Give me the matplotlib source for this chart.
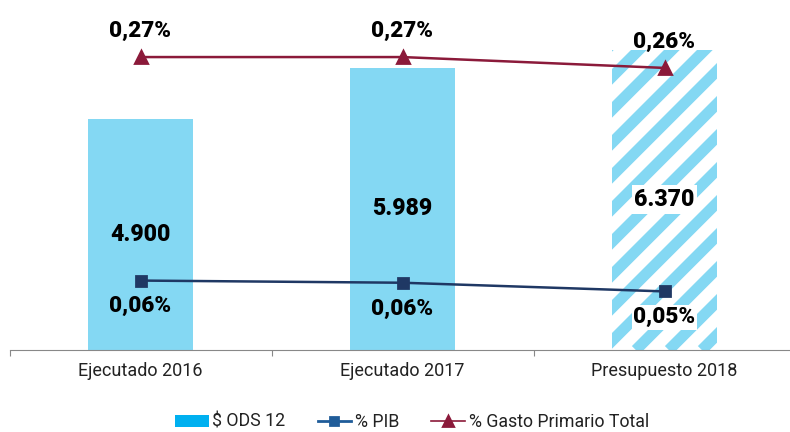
import matplotlib.pyplot as plt
from matplotlib.patches import Patch
from matplotlib.lines import Line2D
from matplotlib.transforms import IdentityTransform
import numpy as np

plt.rcParams['font.family'] = ['Roboto', 'DejaVu Sans']

categorias = ['Ejecutado 2016', 'Ejecutado 2017', 'Presupuesto 2018']
ods12 = [4900, 5989, 6370]
pib = [0.064, 0.062, 0.054]
gasto = [0.27, 0.27, 0.26]
rayado = [False, False, True]

barra_col = '#84D8F3'
pib_col = '#1F3864'
gasto_col = '#8B1A3A'

fig = plt.figure(figsize=(3.95, 2.16), dpi=200)
ax1 = fig.add_axes([9.5 / 790, 82 / 432, 786 / 790, 350 / 432])
ax2 = ax1.twinx()

x = np.arange(len(categorias))
barras_rayadas = []
for i in range(len(x)):
    if rayado[i]:
        b = ax1.bar(x[i], ods12[i], width=0.40, color='white', linewidth=0, zorder=2)
        barras_rayadas.append(b[0])
    else:
        ax1.bar(x[i], ods12[i], width=0.40, color=barra_col, linewidth=0, zorder=2)
    caja = dict(facecolor='white', edgecolor='none', pad=1) if rayado[i] else None
    ax1.text(x[i], ods12[i] / 2, f"{ods12[i]:,}".replace(',', '.'), ha='center', va='center',
             fontsize=8.3, fontweight='black', bbox=caja, zorder=5)

ax1.set_xlim(-0.5, 2.5)
ax1.set_ylim(0, 7420)
ax1.set_xticks(x)
ax1.set_xticklabels(categorias, fontsize=6.5, color='#222222')
ax1.set_xticks([-0.5, 0.5, 1.5, 2.5], minor=True)
ax1.tick_params(axis='x', which='major', length=0, pad=4.5)
ax1.tick_params(axis='x', which='minor', length=2, width=0.4, color='#888888')
ax1.set_yticks([])
for s in ['top', 'right', 'left']:
    ax1.spines[s].set_visible(False)
    ax2.spines[s].set_visible(False)
ax2.spines['bottom'].set_visible(False)
ax1.spines['bottom'].set_color('#888888')
ax1.spines['bottom'].set_linewidth(0.4)

# wide diagonal stripes for the budget bar, clipped to the bar (pixel space)
fig.canvas.draw()
for b in barras_rayadas:
    ext = b.get_window_extent()
    L = ext.height + ext.width
    paso = 33
    for x0 in np.arange(ext.x0 - L, ext.x1 + paso, paso):
        ln = Line2D([x0, x0 + L], [ext.y0, ext.y0 + L],
                    transform=IdentityTransform(), color=barra_col, lw=4.0,
                    solid_capstyle='butt', zorder=2.5)
        ax1.add_artist(ln)
        ln.set_clip_path(b)

ax2.plot(x, pib, color=pib_col, lw=0.9, marker='s', markersize=3.6, zorder=3)
ax2.plot(x, gasto, color=gasto_col, lw=0.9, marker='^', markersize=4.2, zorder=3)
ax2.set_ylim(0, 0.3226)
ax2.set_yticks([])

for i in range(len(x)):
    caja = dict(facecolor='white', edgecolor='none', pad=0.5) if rayado[i] else None
    ax2.annotate(f"{pib[i]:.2f}%".replace('.', ','), (x[i], pib[i]), xytext=(0, -9.3),
                 textcoords='offset points', ha='center', va='center',
                 fontsize=8.1, fontweight='black', bbox=caja)
    ax2.annotate(f"{gasto[i]:.2f}%".replace('.', ','), (x[i], gasto[i]), xytext=(0, 9.4),
                 textcoords='offset points', ha='center', va='center',
                 fontsize=8.1, fontweight='black')

handles = [Patch(facecolor='#00B0F0', edgecolor='none'),
           Line2D([], [], color='#1F5C99', lw=1.0, marker='s', markersize=3),
           Line2D([], [], color=gasto_col, lw=0.6, marker='^', markersize=3.4)]
fig.legend(handles, ['$ ODS 12', '% PIB', '% Gasto Primario Total'], loc='center',
           bbox_to_anchor=(412 / 790, 1 - 422 / 432), ncol=3, frameon=False,
           fontsize=6.4, handlelength=1.9, handletextpad=0.2, columnspacing=1.8,
           labelcolor='#222222')

fig.savefig('out.png', dpi=200)
